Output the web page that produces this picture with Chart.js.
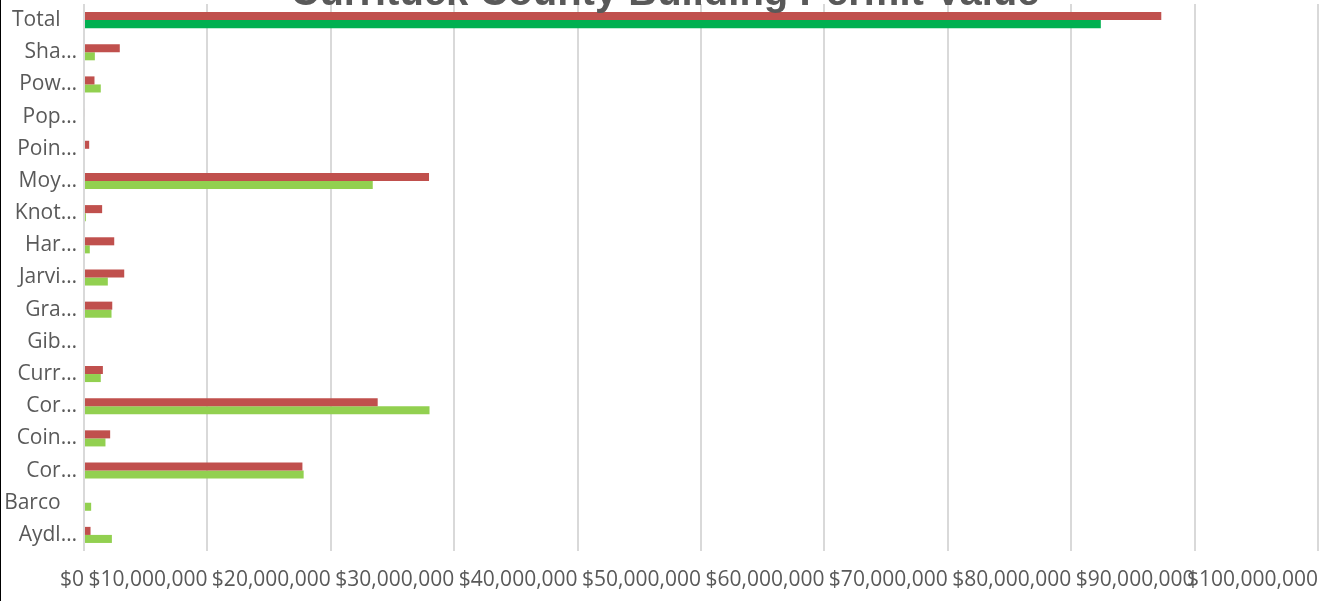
<!DOCTYPE html>
<html>
<head>
<meta charset="utf-8">
<script src="https://cdn.jsdelivr.net/npm/chart.js@4.4.1/dist/chart.umd.min.js"></script>
<style>
  html, body { margin: 0; padding: 0; background: #fff; }
  #wrap { width: 1328px; height: 601px; border-left: 1px solid #000; }
</style>
</head>
<body>
<div id="wrap"><canvas id="permitChart" width="1328" height="601"></canvas></div>
<script>
// Areas, listed top to bottom as they appear on the chart
const areas = ['Total', 'Sha…', 'Pow…', 'Pop…', 'Poin…', 'Moy…', 'Knot…', 'Har…',
  'Jarvi…', 'Gra…', 'Gib…', 'Curr…', 'Cor…', 'Coin…', 'Cor…', 'Barco', 'Aydl…'];

// Permit values in dollars
const series1 = [87300000, 2900000, 850000, 80000, 420000, 27960000, 1470000, 2450000,
  3260000, 2290000, 0, 1530000, 23800000, 2120000, 17700000, 0, 530000];
const series2 = [82400000, 880000, 1360000, 0, 0, 23400000, 150000, 470000,
  1930000, 2230000, 0, 1360000, 28000000, 1740000, 17800000, 580000, 2260000];

const axisMin = 0;
const axisMax = 100000000;
const axisStep = 10000000;

const titleText = 'Currituck County Building Permit Value';

const fontFamily = '"Open Sans", sans-serif';
const textColor = '#595959';

// Title sits mostly above the canvas edge, only its lower part shows
const titlePlugin = {
  id: 'clippedTitle',
  afterDraw(chart) {
    const ctx = chart.ctx;
    ctx.save();
    ctx.font = 'bold 40px "Liberation Sans", Arial, sans-serif';
    ctx.fillStyle = textColor;
    ctx.textAlign = 'center';
    ctx.textBaseline = 'alphabetic';
    ctx.fillText(titleText, chart.width / 2, 5);
    ctx.restore();
  }
};

const ctx = document.getElementById('permitChart').getContext('2d');
const permitChart = new Chart(ctx, {
  type: 'bar',
  data: {
    labels: areas,
    datasets: [{
      label: 'Series1',
      data: series1,
      backgroundColor: '#C0504D',
      categoryPercentage: 0.5,
      barPercentage: 1.0
    }, {
      label: 'Series2',
      data: series2,
      backgroundColor: areas.map(a => a === 'Total' ? '#00B050' : '#92D050'),
      categoryPercentage: 0.5,
      barPercentage: 1.0
    }]
  },
  options: {
    indexAxis: 'y',
    responsive: false,
    animation: false,
    layout: { padding: { top: 4, right: 11, left: 0, bottom: 0 } },
    plugins: {
      legend: { display: false },
      title: { display: false },
      tooltip: { enabled: false }
    },
    scales: {
      x: {
        min: axisMin,
        max: axisMax,
        afterFit: s => {
          s.height = 50;
          s.paddingLeft = 0;
          s.paddingRight = 0;
        },
        grid: { color: '#d9d9d9', lineWidth: 2, drawTicks: false },
        border: { display: false },
        ticks: {
          stepSize: axisStep,
          autoSkip: false,
          minRotation: 0,
          maxRotation: 0,
          align: 'end',
          padding: 16,
          color: textColor,
          font: { family: fontFamily, size: 21 },
          callback: v => '$' + v.toLocaleString('en-US')
        }
      },
      y: {
        afterFit: s => {
          s.width = 83;
          s.paddingTop = 0;
          s.paddingBottom = 0;
        },
        grid: { display: false, drawTicks: false },
        border: { display: false },
        ticks: {
          padding: 7,
          autoSkip: false,
          color: textColor,
          font: { family: fontFamily, size: 21 },
          // full names sit a little further left than the shortened ones
          callback: function (v) {
            const name = this.getLabelForValue(v);
            return name.endsWith('…') ? name : name + '   ';
          }
        }
      }
    }
  },
  plugins: [titlePlugin]
});
</script>
</body>
</html>
